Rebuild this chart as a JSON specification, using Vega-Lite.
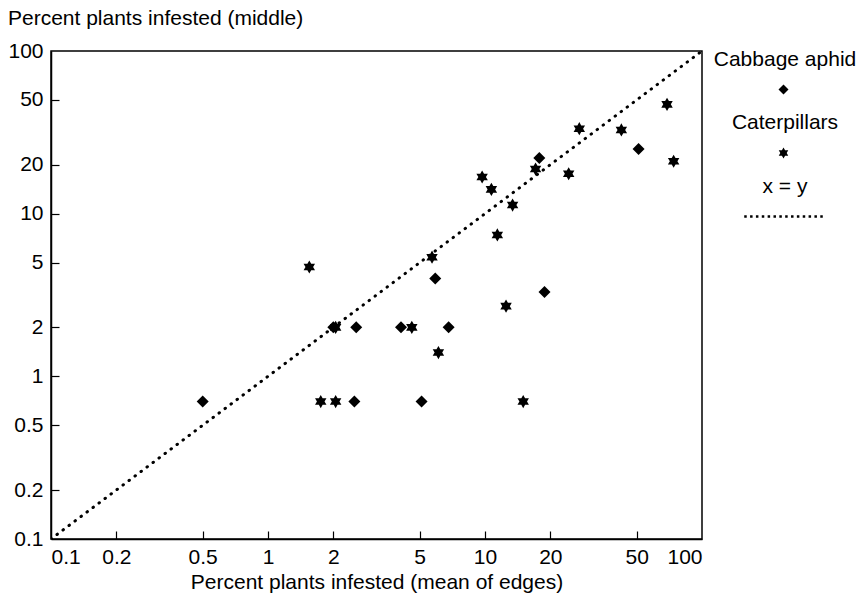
{
  "$schema": "https://vega.github.io/schema/vega-lite/v6.json",
  "width": 651,
  "height": 488,
  "padding": {"left": 7, "top": 8, "right": 5, "bottom": 5},
  "background": "white",
  "title": {"text": "Percent plants infested (middle)", "anchor": "start", "frame": "bounds", "fontSize": 21, "fontWeight": "normal", "font": "Liberation Sans", "color": "black", "offset": 11},
  "config": {
    "view": {"stroke": "black", "strokeWidth": 1.5},
    "style": {"guide-label": {"lineHeight": 61}},
    "axis": {"grid": false, "domainColor": "black", "domainWidth": 1.5, "tickColor": "black", "tickWidth": 1.2, "labelFont": "Liberation Sans", "labelFontSize": 21, "labelColor": "black", "titleFont": "Liberation Sans", "titleFontSize": 21, "titleFontWeight": "normal", "titleColor": "black"},
    "legend": {"labelFont": "Liberation Sans", "labelFontSize": 21, "labelColor": "black"}
  },
  "resolve": {"axis": {"x": "independent", "y": "independent"}},
  "layer": [
    {
      "data": {"values": [{"x": 0.1, "y": 0.1}, {"x": 100, "y": 100}]},
      "mark": {"type": "line", "color": "black", "strokeWidth": 3, "strokeDash": [0.5, 7], "strokeCap": "round", "clip": true},
      "encoding": {
        "x": {"field": "x", "type": "quantitative",
          "axis": {"orient": "bottom", "offset": -8, "tickSize": 8, "labels": false, "domain": false, "title": null, "values": [0.2, 0.5, 1, 2, 5, 10, 20, 50]}},
        "y": {"field": "y", "type": "quantitative",
          "axis": {"orient": "left", "offset": -8, "tickSize": 8, "labels": false, "domain": false, "title": null, "values": [0.2, 0.5, 1, 2, 5, 10, 20, 50]}}
      }
    },
    {
      "data": {"values": [
        {"series": "Cabbage aphid", "x": 0.5, "y": 0.7},
        {"series": "Cabbage aphid", "x": 2.5, "y": 0.7},
        {"series": "Cabbage aphid", "x": 5.1, "y": 0.7},
        {"series": "Cabbage aphid", "x": 2.0, "y": 2.0},
        {"series": "Cabbage aphid", "x": 2.55, "y": 2.0},
        {"series": "Cabbage aphid", "x": 4.1, "y": 2.0},
        {"series": "Cabbage aphid", "x": 6.8, "y": 2.0},
        {"series": "Cabbage aphid", "x": 5.9, "y": 4.0},
        {"series": "Cabbage aphid", "x": 18.8, "y": 3.3},
        {"series": "Cabbage aphid", "x": 17.8, "y": 22},
        {"series": "Cabbage aphid", "x": 51, "y": 25},
        {"series": "Caterpillars", "x": 1.75, "y": 0.7},
        {"series": "Caterpillars", "x": 2.05, "y": 0.7},
        {"series": "Caterpillars", "x": 15, "y": 0.7},
        {"series": "Caterpillars", "x": 2.05, "y": 2.0},
        {"series": "Caterpillars", "x": 4.6, "y": 2.0},
        {"series": "Caterpillars", "x": 6.1, "y": 1.4},
        {"series": "Caterpillars", "x": 1.55, "y": 4.7},
        {"series": "Caterpillars", "x": 5.7, "y": 5.4},
        {"series": "Caterpillars", "x": 9.7, "y": 16.8},
        {"series": "Caterpillars", "x": 10.7, "y": 14.1},
        {"series": "Caterpillars", "x": 13.4, "y": 11.3},
        {"series": "Caterpillars", "x": 11.4, "y": 7.4},
        {"series": "Caterpillars", "x": 12.5, "y": 2.7},
        {"series": "Caterpillars", "x": 17.1, "y": 18.8},
        {"series": "Caterpillars", "x": 24.3, "y": 17.6},
        {"series": "Caterpillars", "x": 74, "y": 21},
        {"series": "Caterpillars", "x": 27.2, "y": 33.3},
        {"series": "Caterpillars", "x": 42.5, "y": 32.7},
        {"series": "Caterpillars", "x": 69, "y": 47}
      ]},
      "mark": {"type": "point", "filled": true, "color": "black", "opacity": 1, "size": 144, "strokeWidth": 0},
      "encoding": {
        "x": {"field": "x", "type": "quantitative", "scale": {"type": "log", "domain": [0.1, 100], "nice": false},
          "axis": {"orient": "bottom", "values": [0.1, 0.2, 0.5, 1, 2, 5, 10, 20, 50, 100], "format": "~g", "ticks": false, "title": "Percent plants infested (mean of edges)", "labelPadding": 7, "titlePadding": 4}},
        "y": {"field": "y", "type": "quantitative", "scale": {"type": "log", "domain": [0.1, 100], "nice": false},
          "axis": {"orient": "left", "values": [0.1, 0.2, 0.5, 1, 2, 5, 10, 20, 50, 100], "format": "~g", "ticks": false, "title": null, "labelPadding": 8}},
        "shape": {"field": "series", "type": "nominal",
          "scale": {"domain": ["Cabbage aphid", "Caterpillars", "x = y"],
            "range": ["diamond",
              "M0,-1.1L0.3175,-0.55L0.953,-0.55L0.635,0L0.953,0.55L0.3175,0.55L0,1.1L-0.3175,0.55L-0.953,0.55L-0.635,0L-0.953,-0.55L-0.3175,-0.55Z",
              "M-7.855,-0.25h0.5v0.5h-0.5ZM-6.685,-0.25h0.5v0.5h-0.5ZM-5.515,-0.25h0.5v0.5h-0.5ZM-4.345,-0.25h0.5v0.5h-0.5ZM-3.175,-0.25h0.5v0.5h-0.5ZM-2.005,-0.25h0.5v0.5h-0.5ZM-0.835,-0.25h0.5v0.5h-0.5ZM0.335,-0.25h0.5v0.5h-0.5ZM1.505,-0.25h0.5v0.5h-0.5ZM2.675,-0.25h0.5v0.5h-0.5ZM3.845,-0.25h0.5v0.5h-0.5ZM5.015,-0.25h0.5v0.5h-0.5ZM6.185,-0.25h0.5v0.5h-0.5ZM7.355,-0.25h0.5v0.5h-0.5Z"]},
          "legend": {"title": " ", "titleFontSize": 14, "titlePadding": 14, "orient": "right", "offset": 71, "symbolSize": 100, "symbolStrokeWidth": 0, "symbolFillColor": "black", "symbolOpacity": 1, "labelAlign": "center", "labelOffset": -9, "labelBaseline": "line-bottom", "labelLimit": 0, "rowPadding": 16.5}}
      }
    }
  ]
}
